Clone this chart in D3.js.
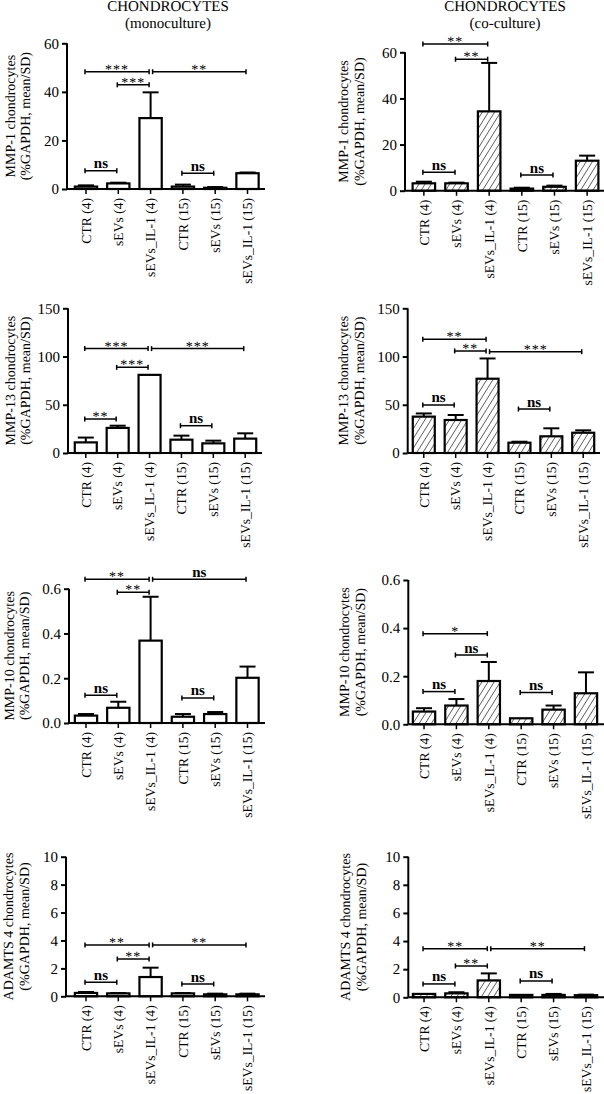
<!DOCTYPE html>
<html><head><meta charset="utf-8">
<script src="https://cdn.jsdelivr.net/npm/d3@7"></script>
<style>
html,body{margin:0;padding:0;background:#fff;}
svg{display:block;font-family:"Liberation Serif","Times New Roman",serif;text-rendering:geometricPrecision;}
text{fill:#000;}
</style></head>
<body>
<svg id="chart" width="604" height="1094"></svg>
<script>
// ---------- data ----------
const categories = ["CTR (4)","sEVs (4)","sEVs_IL-1 (4)","CTR (15)","sEVs (15)","sEVs_IL-1 (15)"];
const columnTitles = [["CHONDROCYTES","(monoculture)"],["CHONDROCYTES","(co-culture)"]];
const yTitles = ["MMP-1 chondrocytes","MMP-13 chondrocytes","MMP-10 chondrocytes","ADAMTS 4 chondrocytes"];
const yUnit = "(%GAPDH, mean/SD)";

const mmp1Ticks = [0,20,40,60];
const mmp13Ticks = [0,50,100,150];
const mmp10Ticks = [0.0,0.2,0.4,0.6];
const adamtsTicks = [0,2,4,6,8,10];

const mmp1Mono   = [1.0, 2.3, 29.2, 1.0, 0.5, 6.5];
const mmp1MonoSD = [0.5, 0.3, 10.6, 0.8, 0.3, 0.3];
const mmp1Co     = [3.2, 3.2, 34.4, 0.9, 1.7, 13.0];
const mmp1CoSD   = [0.7, 0.3, 21.0, 0.4, 0.5, 2.2];

const mmp13Mono   = [11, 26, 81, 13.8, 10, 14.9];
const mmp13MonoSD = [5, 2.3, 0, 4.2, 2.8, 5.5];
const mmp13Co     = [37.7, 34.2, 77, 10.7, 17.3, 21];
const mmp13CoSD   = [3.3, 5.2, 21, 1, 8.3, 2.5];

const mmp10Mono   = [0.033, 0.068, 0.368, 0.028, 0.040, 0.202];
const mmp10MonoSD = [0.007, 0.027, 0.196, 0.012, 0.009, 0.050];
const mmp10Co     = [0.053, 0.078, 0.180, 0.025, 0.061, 0.129];
const mmp10CoSD   = [0.014, 0.027, 0.079, 0.000, 0.017, 0.087];

const adamtsMono   = [0.24, 0.21, 1.38, 0.21, 0.14, 0.14];
const adamtsMonoSD = [0.07, 0.02, 0.67, 0.02, 0.05, 0.05];
const adamtsCo     = [0.24, 0.28, 1.20, 0.17, 0.17, 0.15];
const adamtsCoSD   = [0.00, 0.08, 0.50, 0.00, 0.07, 0.04];

// significance brackets: [fromIndex, toIndex, yValue, label]
const mmp1MonoSig = [[0,2,48.3,"***"],[1,2,42.9,"***"],[2,5,48.3,"**"],[0,1,7.5,"ns"],[3,4,6.5,"ns"]];
const mmp1CoSig   = [[0,2,63.6,"**"],[1,2,57,"**"],[0,1,8,"ns"],[3,4,6.8,"ns"]];
const mmp13MonoSig = [[0,2,108.2,"***"],[1,2,88.8,"***"],[2,5,108.2,"***"],[0,1,35.3,"**"],[3,4,28.3,"ns"]];
const mmp13CoSig   = [[0,2,118,"**"],[1,2,105.8,"**"],[2,5,105,"***"],[0,1,49.8,"ns"],[3,4,45.6,"ns"]];
const mmp10MonoSig = [[0,2,0.642,"**"],[1,2,0.584,"**"],[2,5,0.642,"ns"],[0,1,0.124,"ns"],[3,4,0.112,"ns"]];
const mmp10CoSig   = [[0,2,0.377,"*"],[1,2,0.288,"ns"],[0,1,0.136,"ns"],[3,4,0.132,"ns"]];
const adamtsMonoSig = [[0,2,3.68,"**"],[1,2,2.67,"**"],[2,5,3.68,"**"],[0,1,1.0,"ns"],[3,4,0.88,"ns"]];
const adamtsCoSig   = [[0,2,3.46,"**"],[1,2,2.23,"**"],[2,5,3.46,"**"],[0,1,0.95,"ns"],[3,4,1.16,"ns"]];

// ---------- layout ----------
const panels = [
  {vals:mmp1Mono, sd:mmp1MonoSD, sig:mmp1MonoSig, ticks:mmp1Ticks, fmt:d3.format("d"), yt:0, hatch:false,
   ax:67, top:43.3, bot:189, x0:70, x1:263.5, right:265, tx:[10,25]},
  {vals:mmp1Co, sd:mmp1CoSD, sig:mmp1CoSig, ticks:mmp1Ticks, fmt:d3.format("d"), yt:0, hatch:true,
   ax:405, top:52.3, bot:190.7, x0:407.7, x1:603.3, right:604, tx:[343,359]},
  {vals:mmp13Mono, sd:mmp13MonoSD, sig:mmp13MonoSig, ticks:mmp13Ticks, fmt:d3.format("d"), yt:1, hatch:false,
   ax:68, top:308.3, bot:453, x0:70, x1:261, right:262, tx:[10,25]},
  {vals:mmp13Co, sd:mmp13CoSD, sig:mmp13CoSig, ticks:mmp13Ticks, fmt:d3.format("d"), yt:1, hatch:true,
   ax:407.7, top:308.3, bot:453, x0:408, x1:599, right:600, tx:[343,359]},
  {vals:mmp10Mono, sd:mmp10MonoSD, sig:mmp10MonoSig, ticks:mmp10Ticks, fmt:d3.format(".1f"), yt:2, hatch:false,
   ax:69, top:588.7, bot:723, x0:70, x1:263.5, right:265, tx:[9,24]},
  {vals:mmp10Co, sd:mmp10CoSD, sig:mmp10CoSig, ticks:mmp10Ticks, fmt:d3.format(".1f"), yt:2, hatch:true,
   ax:408.3, top:580, bot:724.3, x0:408, x1:602, right:604, tx:[344,360]},
  {vals:adamtsMono, sd:adamtsMonoSD, sig:adamtsMonoSig, ticks:adamtsTicks, fmt:d3.format("d"), yt:3, hatch:false,
   ax:66, top:856.7, bot:996.3, x0:70, x1:263.5, right:265, tx:[8,24]},
  {vals:adamtsCo, sd:adamtsCoSD, sig:adamtsCoSig, ticks:adamtsTicks, fmt:d3.format("d"), yt:3, hatch:true,
   ax:408.3, top:856.7, bot:997.3, x0:408, x1:602, right:604, tx:[345,361]}
];

const svg = d3.select("#chart");
const defs = svg.append("defs");
const pat = defs.append("pattern").attr("id","hatch").attr("patternUnits","userSpaceOnUse")
  .attr("width",5.2).attr("height",10).attr("patternTransform","rotate(32)");
pat.append("rect").attr("width",5.2).attr("height",10).attr("fill","#fff");
pat.append("line").attr("x1",0).attr("y1",0).attr("x2",0).attr("y2",10).attr("stroke","#000").attr("stroke-width",1.1);

// column titles
[[168,columnTitles[0]],[505,columnTitles[1]]].forEach(([cx,t])=>{
  svg.append("text").attr("x",cx).attr("y",11).attr("text-anchor","middle").attr("font-size",15).text(t[0]);
  svg.append("text").attr("x",cx).attr("y",27.5).attr("text-anchor","middle").attr("font-size",15).text(t[1]);
});

panels.forEach(p=>{
  const g = svg.append("g");
  const maxV = p.ticks[p.ticks.length-1];
  const y = d3.scaleLinear().domain([0,maxV]).range([p.bot,p.top]);
  const x = d3.scaleBand().domain(categories).range([p.x0,p.x1]).paddingInner(0.31).paddingOuter(0.15);
  const bw = x.bandwidth();
  const cx = i => x(categories[i]) + bw/2;

  // bars
  g.selectAll("rect.bar").data(p.vals).join("rect").attr("class","bar")
    .attr("x",(d,i)=>x(categories[i])).attr("width",bw)
    .attr("y",d=>y(d)).attr("height",d=>p.bot-y(d))
    .attr("fill",p.hatch?"url(#hatch)":"#fff").attr("stroke","#000").attr("stroke-width",2.2);

  // error bars (upper only)
  p.vals.forEach((v,i)=>{
    const t = v + p.sd[i];
    if (p.sd[i] > 0) {
      g.append("line").attr("x1",cx(i)).attr("x2",cx(i)).attr("y1",y(v)).attr("y2",y(t))
        .attr("stroke","#000").attr("stroke-width",2);
      g.append("line").attr("x1",cx(i)-8).attr("x2",cx(i)+8).attr("y1",y(t)).attr("y2",y(t))
        .attr("stroke","#000").attr("stroke-width",2);
    }
  });

  // y axis
  const ya = g.append("g").attr("transform",`translate(${p.ax},0)`)
    .call(d3.axisLeft(y).tickValues(p.ticks).tickFormat(p.fmt).tickSize(5).tickPadding(3));
  ya.select(".domain").attr("stroke-width",2).attr("d",`M0,${p.top}V${p.bot}`);
  ya.selectAll(".tick line").attr("stroke-width",2);
  ya.selectAll(".tick text").attr("font-size",15).attr("font-family","Liberation Serif").attr("fill","#000");

  // x axis
  const xa = g.append("g").attr("transform",`translate(0,${p.bot})`)
    .call(d3.axisBottom(x).tickSize(5).tickSizeOuter(0).tickPadding(0));
  xa.select(".domain").attr("stroke-width",2).attr("d",`M${p.ax},0H${p.right}`);
  xa.selectAll(".tick line").attr("stroke-width",1.5);
  xa.selectAll(".tick text").attr("font-size",13.6).attr("font-family","Liberation Serif").attr("fill","#000")
    .attr("text-anchor","end").attr("transform","rotate(-90)").attr("x",-9).attr("y",0).attr("dy","0.35em");

  // y title
  const my = (p.top+p.bot)/2;
  [yTitles[p.yt], yUnit].forEach((t,k)=>{
    g.append("text").attr("transform",`translate(${p.tx[k]},${my}) rotate(-90)`)
      .attr("text-anchor","middle").attr("dy","0.35em").attr("font-size",14).text(t);
  });

  // significance brackets
  p.sig.forEach(([a,b,v,lab])=>{
    const xa1 = cx(a) + (a===2?2:-1), xb = cx(b) - 1.5, yy = y(v);
    g.append("line").attr("x1",xa1).attr("x2",xb).attr("y1",yy).attr("y2",yy).attr("stroke","#000").attr("stroke-width",1.5);
    [xa1,xb].forEach(xx=>g.append("line").attr("x1",xx).attr("x2",xx).attr("y1",yy-2.5).attr("y2",yy+2.5).attr("stroke","#000").attr("stroke-width",1.5));
    const isNs = lab==="ns";
    g.append("text").attr("x",(xa1+xb)/2).attr("y", isNs ? yy-2.5 : yy+2)
      .attr("text-anchor","middle").attr("font-size",isNs?15:14).attr("fill","#000")
      .attr("font-weight",isNs?"bold":"normal")
      .attr("letter-spacing",isNs?0:1).text(lab);
  });
});
</script>
</body></html>
